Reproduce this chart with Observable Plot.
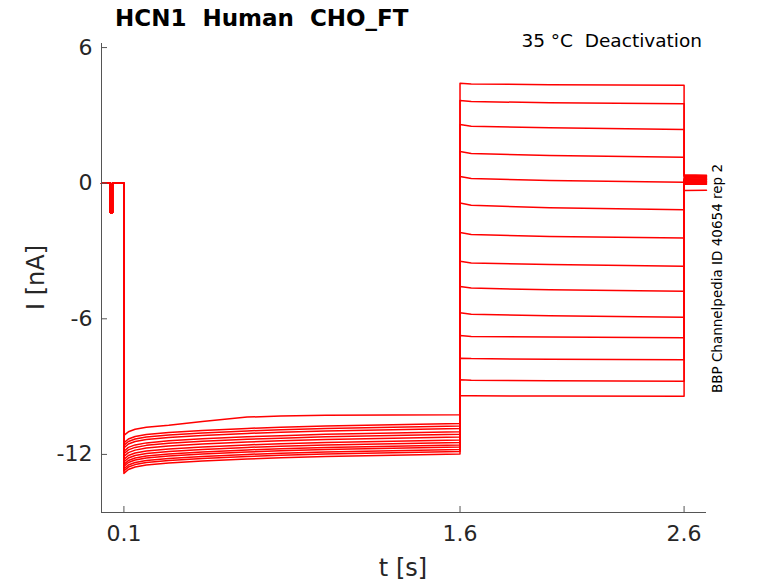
<!DOCTYPE html>
<html><head><meta charset="utf-8">
<script src="https://cdn.jsdelivr.net/npm/d3@7"></script>
<script src="https://cdn.jsdelivr.net/npm/@observablehq/plot@0.6"></script>
<style>
body{margin:0;background:#fff}
#chart{position:relative;width:778px;height:583px;overflow:hidden}
</style>
</head><body><div id="chart"></div>
<script>
const xTicks = [0.1, 1.6, 2.6];
const yTicks = [-12, -6, 0, 6];
const xDomain = [0, 2.7];
const yDomain = [-14.57, 6.18];

// holding segment (identical for all sweeps)
const seg1T = [0, 0.039, 0.039, 0.049, 0.049, 0.1];
const seg1I = [0, 0, -1.3, -1.3, 0, 0];

// activation step
const seg2T = [0.1, 0.12, 0.15, 0.2, 0.3, 0.45, 0.65, 0.8, 1.0, 1.6];
const seg2I = [
  [-11.16, -11.00, -10.89, -10.80, -10.71, -10.54, -10.35, -10.30, -10.27, -10.25],
  [-11.49, -11.32, -11.21, -11.12, -11.03, -10.94, -10.85, -10.80, -10.74, -10.63],
  [-11.60, -11.43, -11.32, -11.23, -11.14, -11.05, -10.96, -10.91, -10.85, -10.74],
  [-11.71, -11.54, -11.43, -11.34, -11.25, -11.16, -11.07, -11.02, -10.96, -10.85],
  [-11.86, -11.69, -11.58, -11.49, -11.40, -11.31, -11.22, -11.17, -11.11, -11.00],
  [-11.97, -11.80, -11.69, -11.60, -11.51, -11.42, -11.33, -11.28, -11.22, -11.11],
  [-12.09, -11.92, -11.81, -11.72, -11.63, -11.54, -11.45, -11.40, -11.34, -11.23],
  [-12.22, -12.05, -11.94, -11.85, -11.76, -11.67, -11.58, -11.53, -11.47, -11.36],
  [-12.33, -12.16, -12.05, -11.96, -11.87, -11.78, -11.69, -11.64, -11.58, -11.47],
  [-12.44, -12.27, -12.16, -12.07, -11.98, -11.89, -11.80, -11.75, -11.69, -11.58],
  [-12.53, -12.36, -12.25, -12.16, -12.07, -11.98, -11.89, -11.84, -11.78, -11.67],
  [-12.64, -12.47, -12.36, -12.27, -12.18, -12.09, -12.00, -11.95, -11.89, -11.78],
  [-12.73, -12.56, -12.45, -12.36, -12.27, -12.18, -12.09, -12.04, -11.98, -11.87],
  [-12.84, -12.67, -12.56, -12.47, -12.38, -12.29, -12.20, -12.15, -12.09, -11.98]
];

// deactivation steps
const seg3T = [1.6, 1.65, 2.0, 2.6];
const seg3I = [
  [4.42, 4.39, 4.36, 4.33],
  [3.66, 3.61, 3.56, 3.51],
  [2.60, 2.52, 2.45, 2.38],
  [1.40, 1.31, 1.23, 1.15],
  [0.30, 0.21, 0.12, 0.04],
  [-0.88, -0.98, -1.09, -1.18],
  [-2.18, -2.27, -2.36, -2.43],
  [-3.45, -3.53, -3.60, -3.67],
  [-4.57, -4.64, -4.72, -4.78],
  [-5.73, -5.80, -5.87, -5.93],
  [-6.74, -6.78, -6.81, -6.84],
  [-7.74, -7.76, -7.79, -7.81],
  [-8.70, -8.72, -8.74, -8.76],
  [-9.40, -9.41, -9.42, -9.43]
];

// tail back at holding
const seg4T = [2.6, 2.7];
const seg4I = [
  [0.37, 0.35], [0.34, 0.32], [0.31, 0.29], [0.27, 0.25], [0.24, 0.22],
  [0.20, 0.18], [0.17, 0.15], [0.13, 0.11], [0.10, 0.08], [0.06, 0.05],
  [0.03, 0.02], [0.00, -0.01], [-0.04, -0.05], [-0.32, -0.31]
];

const rows = [];
seg2I.forEach((_, k) => {
  seg1T.forEach((t, i) => rows.push({sweep: k, t, I: seg1I[i]}));
  seg2T.forEach((t, i) => rows.push({sweep: k, t, I: seg2I[k][i]}));
  seg3T.forEach((t, i) => rows.push({sweep: k, t, I: seg3I[k][i]}));
  seg4T.forEach((t, i) => rows.push({sweep: k, t, I: seg4I[k][i]}));
});

const axisStroke = "#555";
const plot = Plot.plot({
  width: 778, height: 583,
  marginLeft: 101, marginRight: 72, marginTop: 43, marginBottom: 71,
  style: {fontFamily: "DejaVu Sans", color: "#262626", background: "#fff"},
  x: {domain: xDomain},
  y: {domain: yDomain},
  marks: [
    Plot.line(rows, {x: "t", y: "I", z: "sweep", stroke: "#ff0000", strokeWidth: 1.5}),
    Plot.ruleX([xDomain[0]], {stroke: axisStroke}),
    Plot.ruleY([yDomain[0]], {stroke: axisStroke}),
    Plot.axisX(xTicks, {tickSize: -6, tickPadding: 19, fontSize: 22, label: null, stroke: axisStroke, tickFormat: d => String(d)}),
    Plot.axisY(yTicks, {tickSize: -6, tickPadding: 15, fontSize: 22, label: null, stroke: axisStroke, tickFormat: d => String(d)})
  ]
});
document.getElementById("chart").appendChild(plot);

const svg = d3.select(plot);
const ff = "DejaVu Sans";
svg.append("text").attr("x", 115).attr("y", 26).attr("text-anchor", "start")
  .attr("font-family", ff).attr("font-size", 23).attr("font-weight", "bold")
  .attr("fill", "#000").style("white-space", "pre").text("HCN1  Human  CHO_FT");
svg.append("text").attr("x", 702).attr("y", 47).attr("text-anchor", "end")
  .attr("font-family", ff).attr("font-size", 18.5).attr("fill", "#000")
  .style("white-space", "pre").text("35 °C  Deactivation");
svg.append("text").attr("transform", "translate(721.5,278.5) rotate(-90)").attr("text-anchor", "middle")
  .attr("font-family", ff).attr("font-size", 13.5).attr("fill", "#000")
  .text("BBP Channelpedia ID 40654 rep 2");
svg.append("text").attr("transform", "translate(43.5,277.5) rotate(-90)").attr("text-anchor", "middle")
  .attr("font-family", ff).attr("font-size", 24).attr("fill", "#262626")
  .text("I [nA]");
svg.append("text").attr("x", 403).attr("y", 576).attr("text-anchor", "middle")
  .attr("font-family", ff).attr("font-size", 24).attr("fill", "#262626")
  .text("t [s]");
</script>
</body></html>
